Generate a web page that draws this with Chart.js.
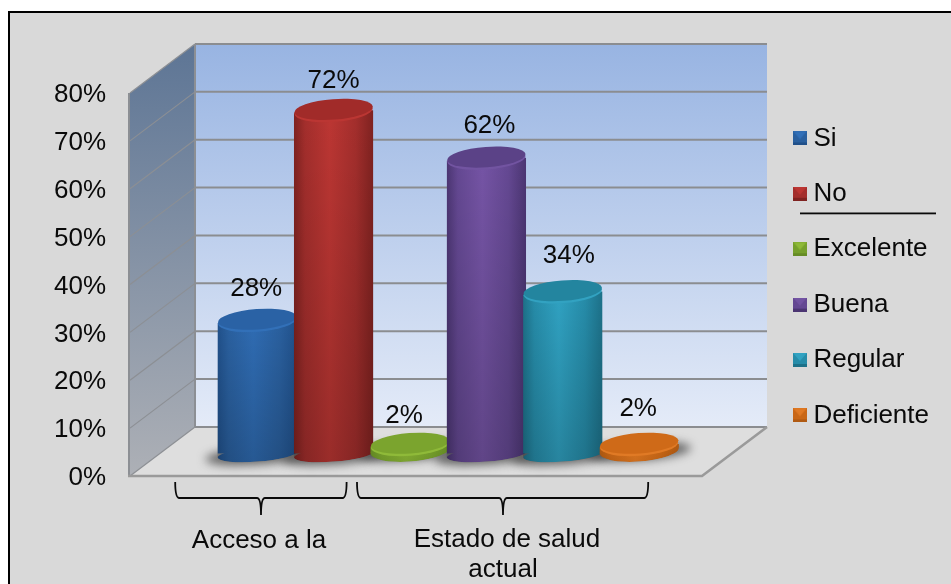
<!DOCTYPE html>
<html>
<head>
<meta charset="utf-8">
<style>html,body{margin:0;padding:0;background:#fff;overflow:hidden}canvas{display:block}</style>
<script src="https://cdn.jsdelivr.net/npm/chart.js@4/dist/chart.umd.min.js"></script>
</head>
<body>
<canvas id="c" width="951" height="584"></canvas>
<script>
// ---- data ----
const categories = ['Si','No','Excelente','Buena','Regular','Deficiente'];
const valuesSi        = [28,null,null,null,null,null];
const valuesNo        = [null,72,null,null,null,null];
const valuesExcelente = [null,null,2,null,null,null];
const valuesBuena     = [null,null,null,62,null,null];
const valuesRegular   = [null,null,null,null,34,null];
const valuesDeficiente= [null,null,null,null,null,2];
const yTicks = [0,10,20,30,40,50,60,70,80];
const groupLabels = [['Acceso a la'],['Estado de salud','actual']];
const allValues = [valuesSi,valuesNo,valuesExcelente,valuesBuena,valuesRegular,valuesDeficiente];

// ---- styles ----
const FONT = '"Liberation Sans", Arial, sans-serif';
const FS = 26;
const INK = '#0a0a0a';
const palettes = [
  {edge:'#20508a',mid:'#2a609f',hi:'#2f6cb3',cap:'#2a62a5',rim:'#3270b8'},
  {edge:'#7f2220',mid:'#a32e2c',hi:'#bc3633',cap:'#a12b29',rim:'#bb3633'},
  {edge:'#668c25',mid:'#76a02c',hi:'#86b033',cap:'#7ba42e',rim:'#8fba39'},
  {edge:'#4b3572',mid:'#644892',hi:'#7554a5',cap:'#5b4287',rim:'#7254a1'},
  {edge:'#1d7189',mid:'#268ca9',hi:'#30a2c2',cap:'#23859f',rim:'#32a2c1'},
  {edge:'#b05a12',mid:'#c96716',hi:'#dd7620',cap:'#cf6a18',rim:'#e07a25'}
];
const labelNudge = [[-1,-24],[0,-22],[-6,-21],[3,-25],[6,-28],[-1,-28]];
const wall = {dx:65, dy:49, floorLeft:130, floorRight:702};
const TILT = 0.075, CAP_RY = 11, BASE_RY = 7, BAR_PCT = 1.04;

function barGradient(ctx2, cx, w, p){
  const g = ctx2.createLinearGradient(cx-w/2,0,cx+w/2,0);
  g.addColorStop(0,p.edge); g.addColorStop(.14,p.mid); g.addColorStop(.45,p.hi);
  g.addColorStop(.78,p.mid); g.addColorStop(1,p.edge);
  return g;
}
function legendSwatch(p){
  const c=document.createElement('canvas'); c.width=14; c.height=14;
  const x=c.getContext('2d');
  x.fillStyle=p.mid; x.fillRect(0,0,14,14);
  x.fillStyle=p.hi; x.beginPath(); x.moveTo(0,0);x.lineTo(14,0);x.lineTo(7,8);x.fill();
  x.fillStyle=p.rim; x.beginPath(); x.moveTo(2,1);x.lineTo(12,1);x.lineTo(7,7);x.fill();
  x.fillStyle=p.edge; x.fillRect(0,11,14,3);
  return c;
}
function geom(el){
  const rx = el.width/2, isDisc = el.base-el.y < 20;
  const baseY = isDisc ? el.base-3 : el.base+1;
  return {rx, isDisc, baseY, baseRy: isDisc ? CAP_RY : BASE_RY, d: rx*Math.sin(TILT)};
}

const cylinderPlugin = {
  id:'cylinder',
  afterLayout(chart){
    const l=chart.legend;
    const h=l.bottom-l.top; 
    l.left=770; l.right=l.left+l.width; l.top=96; l.bottom=l.top+h;
  },
  beforeDraw(chart){
    const c=chart.ctx, ys=chart.scales.y;
    const W=chart.width,H=chart.height;
    c.save();
    c.fillStyle='#d9d9d9'; c.fillRect(9,12,W,H);
    c.fillStyle='#000'; c.fillRect(8,11,W,2); c.fillRect(8,11,2,H);
    const y0=ys.getPixelForValue(yTicks[0]), yT=ys.getPixelForValue(yTicks[yTicks.length-1]);
    const L=wall.floorLeft,R=wall.floorRight,dx=wall.dx,dy=wall.dy;
    // back wall
    let g=c.createLinearGradient(0,yT-dy,0,y0-dy);
    g.addColorStop(0,'#98b4e2'); g.addColorStop(1,'#e4ebf8');
    c.fillStyle=g; c.fillRect(L+dx,yT-dy,R-L,y0-yT);
    // left wall
    g=c.createLinearGradient(0,yT-dy,0,y0);
    g.addColorStop(0,'#5d7595'); g.addColorStop(1,'#adb0b6');
    c.fillStyle=g; c.beginPath(); c.moveTo(L,yT); c.lineTo(L+dx,yT-dy); c.lineTo(L+dx,y0-dy); c.lineTo(L,y0); c.closePath(); c.fill();
    // floor
    c.fillStyle='#dedede'; c.beginPath(); c.moveTo(L,y0); c.lineTo(L+dx,y0-dy); c.lineTo(R+dx,y0-dy); c.lineTo(R,y0); c.closePath(); c.fill();
    // grid
    yTicks.forEach(v=>{
      const p=ys.getPixelForValue(v);
      c.strokeStyle='#8c8f94'; c.lineWidth=1.2;
      c.beginPath(); c.moveTo(L,p); c.lineTo(L+dx,p-dy); c.stroke();
      c.strokeStyle='#8b8d90'; c.lineWidth=2;
      c.beginPath(); c.moveTo(L+dx,p-dy); c.lineTo(R+dx,p-dy); c.stroke();
    });
    c.strokeStyle='#8c8f94'; c.lineWidth=2;
    c.beginPath(); c.moveTo(L+dx,yT-dy); c.lineTo(L+dx,y0-dy); c.stroke();
    c.beginPath(); c.moveTo(L-1,yT); c.lineTo(L-1,y0+1); c.stroke();
    c.strokeStyle='#9a9a9a'; c.lineWidth=2.6;
    c.beginPath(); c.moveTo(L-2,y0); c.lineTo(R,y0); c.lineTo(R+dx,y0-dy); c.stroke();
    c.restore();
  },
  beforeDatasetsDraw(chart){
    const c=chart.ctx;
    c.save();
    c.filter='blur(5px)'; c.fillStyle='rgba(70,70,70,.8)';
    chart.data.datasets.forEach((ds,i)=>{
      const el=chart.getDatasetMeta(i).data[i], g=geom(el);
      c.beginPath(); c.ellipse(el.x,g.baseY+1,g.rx+12,9,-TILT,0,Math.PI*2); c.fill();
    });
    c.restore();
  },
  beforeDatasetDraw(chart,args){
    const i=args.index, el=args.meta.data[i], g=geom(el), c=chart.ctx;
    c.save();
    c.beginPath();
    c.moveTo(el.x-g.rx,el.y+g.d); c.lineTo(el.x+g.rx,el.y-g.d);
    c.lineTo(el.x+g.rx,g.baseY-g.d); c.lineTo(el.x-g.rx,g.baseY+g.d); c.closePath();
    c.ellipse(el.x,g.baseY,g.rx,g.baseRy,-TILT,0,Math.PI*2);
    c.clip();
    c.fillStyle=barGradient(c,el.x,el.width,palettes[i]);
    c.beginPath(); c.ellipse(el.x,g.baseY,g.rx,g.baseRy,-TILT,0,Math.PI*2); c.fill();
  },
  afterDatasetDraw(chart,args){
    const i=args.index, el=args.meta.data[i], g=geom(el), c=chart.ctx, p=palettes[i];
    const s=c.createLinearGradient(0,el.y,0,g.baseY+g.baseRy);
    s.addColorStop(0,'rgba(0,0,0,0)'); s.addColorStop(1,g.isDisc?'rgba(0,0,0,.08)':'rgba(0,0,0,.18)');
    c.fillStyle=s; c.fillRect(el.x-g.rx-2,el.y-20,el.width+4,g.baseY-el.y+50);
    c.restore();
    c.save();
    c.filter='blur(0.7px)';
    c.fillStyle=p.rim;
    c.beginPath(); c.ellipse(el.x,el.y+1,g.rx-0.5,CAP_RY-0.3,-TILT,0,Math.PI*2); c.fill();
    c.fillStyle=p.cap;
    c.beginPath(); c.ellipse(el.x,el.y-0.8,g.rx-0.5,CAP_RY-0.8,-TILT,0,Math.PI*2); c.fill();
    c.restore();
  },
  afterDatasetsDraw(chart){
    const c=chart.ctx, xs=chart.scales.x;
    c.save();
    c.fillStyle=INK; c.font=FS+'px '+FONT; c.textAlign='center'; c.textBaseline='alphabetic';
    chart.data.datasets.forEach((ds,i)=>{
      const el=chart.getDatasetMeta(i).data[i];
      c.fillText(ds.data[i]+'%', el.x+labelNudge[i][0], el.y+labelNudge[i][1]);
    });
    // multi-level category brackets
    const brackets=[[xs.getPixelForValue(0)-82, xs.getPixelForValue(1)+13, 261],
                    [xs.getPixelForValue(2)-53, xs.getPixelForValue(5)+9, 503]];
    c.strokeStyle=INK; c.lineWidth=1.8;
    brackets.forEach(b=>{
      c.beginPath();
      c.moveTo(b[0],482); c.quadraticCurveTo(b[0],498,b[0]+4,498);
      c.lineTo(b[2]-4,498); c.quadraticCurveTo(b[2],498,b[2],515);
      c.quadraticCurveTo(b[2],498,b[2]+4,498);
      c.lineTo(b[1]-4,498); c.quadraticCurveTo(b[1],498,b[1],482);
      c.stroke();
    });
    c.fillText(groupLabels[0][0],259,548);
    c.fillText(groupLabels[1][0],507,547);
    c.fillText(groupLabels[1][1],503,577);
    // stray rule beneath the "No" legend entry
    c.fillStyle=INK; c.fillRect(800,212.5,136,1.8);
    c.restore();
  }
};

new Chart(document.getElementById('c'),{
  type:'bar',
  plugins:[cylinderPlugin],
  data:{
    labels:categories,
    datasets:categories.map((name,i)=>({
      label:name,
      data:allValues[i],
      yAxisID:'y2',
      order:6-i,
      clip:false,
      grouped:false,
      barPercentage:BAR_PCT,
      categoryPercentage:1,
      borderWidth:0,
      backgroundColor:ctx=>{
        const w=ctx.chart.scales.x ? (ctx.chart.scales.x.width/categories.length)*BAR_PCT : 0;
        if(!w) return palettes[i].mid;
        return barGradient(ctx.chart.ctx, ctx.chart.scales.x.getPixelForValue(i), w, palettes[i]);
      }
    }))
  },
  options:{
    responsive:false,
    animation:false,
    layout:{padding:{top:44,bottom:108,left:0,right:0}},
    plugins:{
      tooltip:{enabled:false},
      title:{display:false},
      legend:{
        display:true,
        position:'right',
        align:'start',
        onClick:null,
        labels:{
          usePointStyle:true,
          boxWidth:1,
          boxHeight:14,
          padding:29.4,
          color:INK,
          font:{family:FONT,size:FS,lineHeight:1.15},
          generateLabels:chart=>chart.data.datasets.map((ds,i)=>({
            text:ds.label,
            datasetIndex:i,
            pointStyle:legendSwatch(palettes[i]),
            fontColor:INK,
            fillStyle:palettes[i].mid,
            lineWidth:0
          }))
        }
      }
    },
    scales:{
      x:{display:false,offset:true,grid:{display:false}},
      y:{
        position:'left',
        min:0,max:90.23,
        afterBuildTicks:s=>{s.ticks=yTicks.map(v=>({value:v}));},
        afterFit:s=>{s.width=219;s.paddingTop=0;s.paddingBottom=0;},
        grid:{display:false,drawTicks:false},
        border:{display:false},
        ticks:{padding:113,labelOffset:2,color:INK,font:{family:FONT,size:FS},callback:v=>v+'%',autoSkip:false}
      },
      y2:{
        position:'right',
        min:-4.696,max:85.87,
        afterFit:s=>{s.width=951-677.4-((s.chart.legend&&s.chart.legend.width)||0);},
        grid:{display:false,drawTicks:false},
        border:{display:false},
        ticks:{display:false}
      }
    }
  }
});
</script>
</body>
</html>
